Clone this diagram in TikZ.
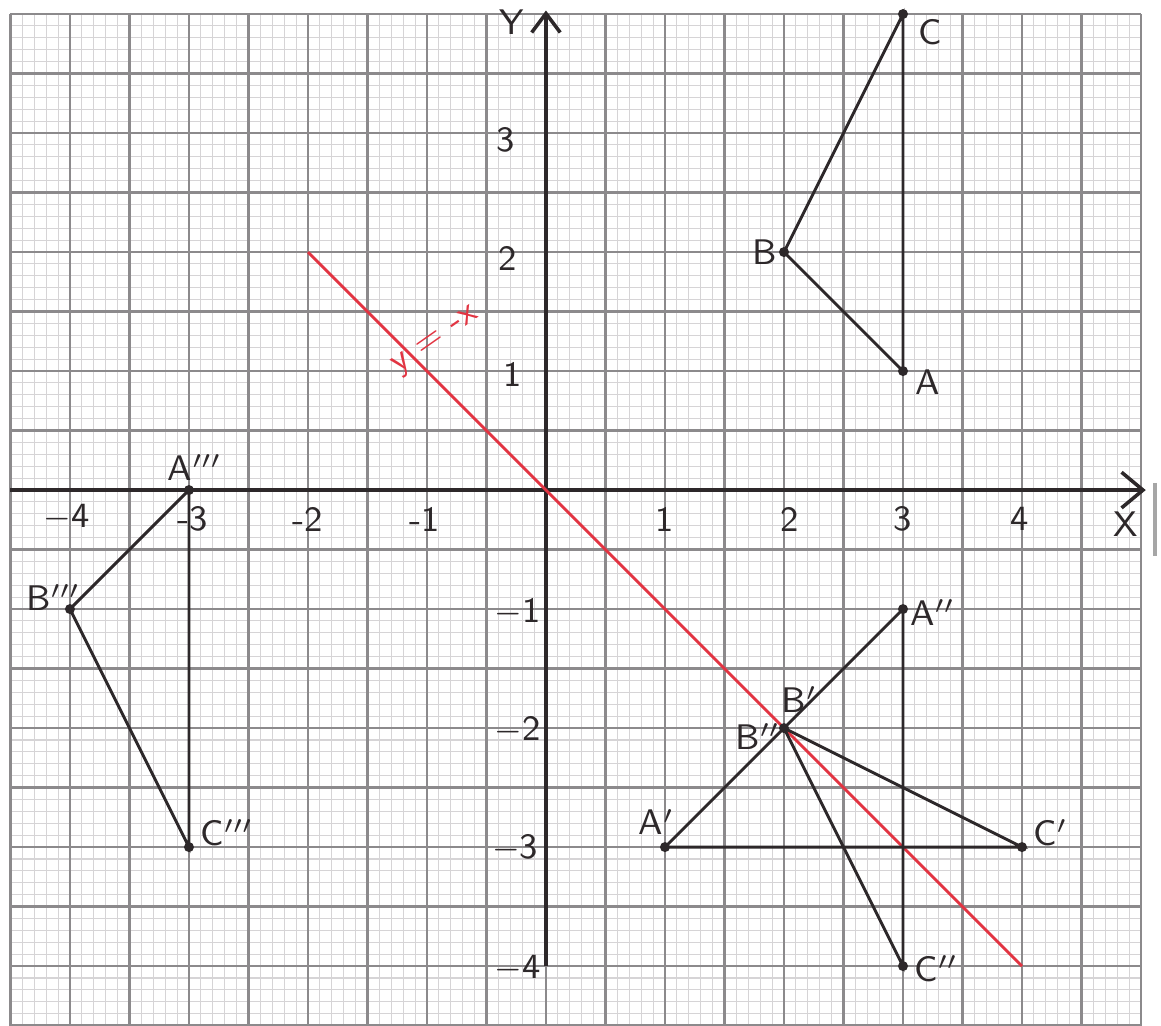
\documentclass[tikz,border=0pt]{standalone}
\usetikzlibrary{arrows.meta}
\definecolor{pen}{RGB}{45,40,42}
\definecolor{redpen}{RGB}{226,52,66}
\definecolor{gminor}{RGB}{214,212,214}
\definecolor{gmajor}{RGB}{140,138,140}
\begin{document}
\begin{tikzpicture}[x=1cm,y=1cm,
  minorgrid/.style={draw=gminor, line width=0.25pt},
  majorgrid/.style={draw=gmajor, line width=0.55pt},
  axis/.style={draw=pen, line width=0.85pt},
  tri/.style={draw=pen, line width=0.7pt},
  mirror/.style={draw=redpen, line width=0.65pt},
  lbl/.style={font=\sffamily\fontsize{8.5}{10}\selectfont, text=pen, inner sep=0.5pt},
  num/.style={font=\sffamily\fontsize{8.5}{10}\selectfont, text=pen, inner sep=0.5pt},
  vtx/.style={circle, fill=pen, inner sep=0pt, minimum size=2.4pt}
]
\useasboundingbox (-4.588,-4.496) rectangle (5.168,4.118);
\fill[white] (-4.588,-4.496) rectangle (5.168,4.118);
% graph paper
\foreach \i in {-45,...,50} {\draw[minorgrid] (\i/10,-4.5) -- (\i/10,4.0);}
\foreach \j in {-45,...,40} {\draw[minorgrid] (-4.5,\j/10) -- (5.0,\j/10);}
\foreach \i in {-9,...,10} {\draw[majorgrid] (\i/2,-4.5) -- (\i/2,4.0);}
\foreach \j in {-9,...,8} {\draw[majorgrid] (-4.5,\j/2) -- (5.0,\j/2);}
% paper edge mark
\draw[draw=gray!70, line width=1pt] (5.12,0.06) -- (5.12,-0.55);

% axes
\coordinate (xl) at (-4.5,0);
\coordinate (xr) at (5.04,0);
\coordinate (yb) at (0,-4);
\coordinate (yt) at (0,4.03);
\draw[axis, -{Straight Barb[length=1.8mm,width=3mm]}] (xl) -- (xr);
\draw[axis, -{Straight Barb[length=1.6mm,width=2.4mm]}] (yb) -- (yt);
\node[lbl] (xlab) at (4.87,-0.29) {X};
\node[lbl] (ylab) at (-0.29,3.93) {Y};

% axis numbers
\node[num] (nx1) at (-4.03,-0.23) {$-$4};
\node[num] (nx2) at (-2.97,-0.24) {-3};
\node[num] (nx3) at (-2.0,-0.25) {-2};
\node[num] (nx4) at (-1.02,-0.25) {-1};
\node[num] (nx5) at (1.0,-0.25) {1};
\node[num] (nx6) at (2.05,-0.25) {2};
\node[num] (nx7) at (3.0,-0.24) {3};
\node[num] (nx8) at (3.98,-0.24) {4};
\node[num] (ny1) at (-0.34,2.94) {3};
\node[num] (ny2) at (-0.32,1.95) {2};
\node[num] (ny3) at (-0.28,0.97) {1};
\node[num] (ny4) at (-0.24,-1.03) {$-$1};
\node[num] (ny5) at (-0.24,-2.02) {$-$2};
\node[num] (ny6) at (-0.26,-3.01) {$-$3};
\node[num] (ny7) at (-0.24,-4.02) {$-$4};

% mirror line y = -x
\coordinate (m1) at (-2,2);
\coordinate (m2) at (4,-4);
\draw[mirror] (m1) -- (m2);
\node[font=\sffamily\fontsize{8.5}{10}\selectfont, text=redpen, rotate=35, inner sep=0.5pt] (mlab) at (-0.92,1.25) {y = -x};

% points
\node[vtx] (A) at (3,1) {};
\node[vtx] (B) at (2,2) {};
\node[vtx] (C) at (3,4) {};
\node[vtx] (A1) at (1,-3) {};
\node[vtx] (B1) at (2,-2) {};
\node[vtx] (C1) at (4,-3) {};
\node[vtx] (A2) at (3,-1) {};
\node[vtx] (C2) at (3,-4) {};
\node[vtx] (A3) at (-3,0) {};
\node[vtx] (B3) at (-4,-1) {};
\node[vtx] (C3) at (-3,-3) {};

% triangles
\draw[tri] (B.center) -- (C.center) -- (A.center) -- (B.center);
\draw[tri] (A1.center) -- (C1.center) -- (B1.center);
\draw[tri] (A1.center) -- (B1.center) -- (A2.center);
\draw[tri] (A2.center) -- (C2.center) -- (B1.center);
\draw[tri] (A3.center) -- (B3.center) -- (C3.center) -- (A3.center);

% vertex labels
\node[lbl] (lC) at (3.23,3.85) {C};
\node[lbl] (lB) at (1.84,2.0) {B};
\node[lbl] (lA) at (3.21,0.91) {A};
\node[lbl] (lA3) at (-2.95,0.19) {A$^{\prime\prime\prime}$};
\node[lbl] (lB3) at (-4.14,-0.9) {B$^{\prime\prime\prime}$};
\node[lbl] (lC3) at (-2.68,-2.88) {C$^{\prime\prime\prime}$};
\node[lbl] (lA2) at (3.25,-1.03) {A$^{\prime\prime}$};
\node[lbl] (lB1) at (2.13,-1.76) {B$^{\prime}$};
\node[lbl] (lB2) at (1.78,-2.07) {B$^{\prime\prime}$};
\node[lbl] (lA1) at (0.93,-2.79) {A$^{\prime}$};
\node[lbl] (lC1) at (4.24,-2.88) {C$^{\prime}$};
\node[lbl] (lC2) at (3.28,-4.02) {C$^{\prime\prime}$};
\end{tikzpicture}
\end{document}
